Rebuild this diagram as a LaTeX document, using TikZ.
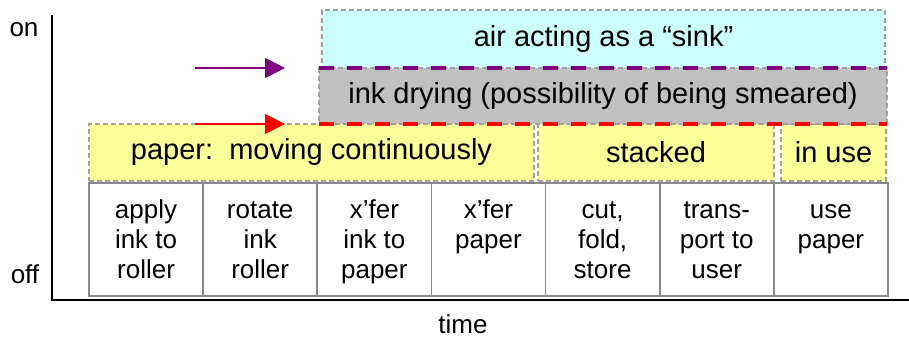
\documentclass[tikz,border=0pt]{standalone}
\usepackage{fontspec}
\setmainfont{Liberation Sans}
\usetikzlibrary{arrows.meta}
\definecolor{cyanfill}{HTML}{CCFFFF}
\definecolor{grayfill}{HTML}{C0C0C0}
\definecolor{yellowfill}{HTML}{FFFF99}
\definecolor{bordergray}{HTML}{A0A0A0}
\definecolor{boxgray}{HTML}{888888}
\definecolor{purp}{HTML}{800080}
\begin{document}
\begin{tikzpicture}[x=1pt,y=-1pt,
  phase/.style={draw=bordergray, dash pattern=on 5pt off 3pt, line width=1.3pt,
    inner sep=0pt, outer sep=0pt, font=\fontsize{29}{33}\selectfont},
  stepbox/.style={draw=boxgray, line width=1.8pt, fill=white, inner sep=0pt, outer sep=0pt,
    minimum width=114.14pt, minimum height=113pt},
  steptxt/.style={font=\fontsize{26}{30}\selectfont, align=center, inner sep=0pt, anchor=north},
  axlbl/.style={font=\fontsize{26}{30}\selectfont, inner sep=0pt, anchor=base},
  thickdash/.style={line width=4pt, dash pattern=on 15pt off 13pt},
  arr/.style={line width=1.8pt, -{Triangle[length=20pt,width=20pt]}}
]
\useasboundingbox (0,0) rectangle (909,337);
% axes
\coordinate (ytop) at (52,15);
\coordinate (orig) at (52,300);
\coordinate (xend) at (909,300);
\draw[line width=2pt] (ytop) -- (orig) -- (xend);
\node[axlbl] (on) at (24,37) {on};
\node[axlbl] (off) at (25,283) {off};
\node[axlbl] (time) at (463,333) {time};
% yellow phases
\node[phase, fill=yellowfill, minimum width=445pt, minimum height=57pt] (paper) at (311.5,152.5) {paper:\ \ moving continuously};
\node[phase, fill=yellowfill, minimum width=236pt, minimum height=57pt] (stacked) at (656,152.5) {stacked};
\node[phase, fill=yellowfill, minimum width=105pt, minimum height=57pt] (inuse) at (833.5,152.5) {in use};
% steps
\foreach \i/\t in {1/{apply\\ink to\\roller},2/{rotate\\ink\\roller},3/{x’fer\\ink to\\paper},4/{x’fer\\paper},5/{cut,\\fold,\\store},6/{trans-\\port to\\user},7/{use\\paper}}{
  \node[stepbox] (s\i) at ({89+114.14*(\i-0.5)},239.5) {};
  \node[steptxt] (t\i) at ({89+114.14*(\i-0.5)},197) {\strut\t};
}
% upper phases
\node[phase, fill=cyanfill, minimum width=563pt, minimum height=58pt] (air) at (603.5,39) {air acting as a “sink”};
\node[phase, fill=grayfill, minimum width=568pt, minimum height=56pt] (ink) at (603,96) {ink drying (possibility of being smeared)};
\draw[purp, thickdash] (ink.north west) -- (ink.north east);
\draw[red, thickdash] (ink.south west) -- (ink.south east);
% arrows
\coordinate (pa) at (195,68);
\coordinate (pb) at (285,68);
\coordinate (ra) at (195,124);
\coordinate (rb) at (285,124);
\draw[purp, arr] (pa) -- (pb);
\draw[red, arr] (ra) -- (rb);
\end{tikzpicture}
\end{document}
